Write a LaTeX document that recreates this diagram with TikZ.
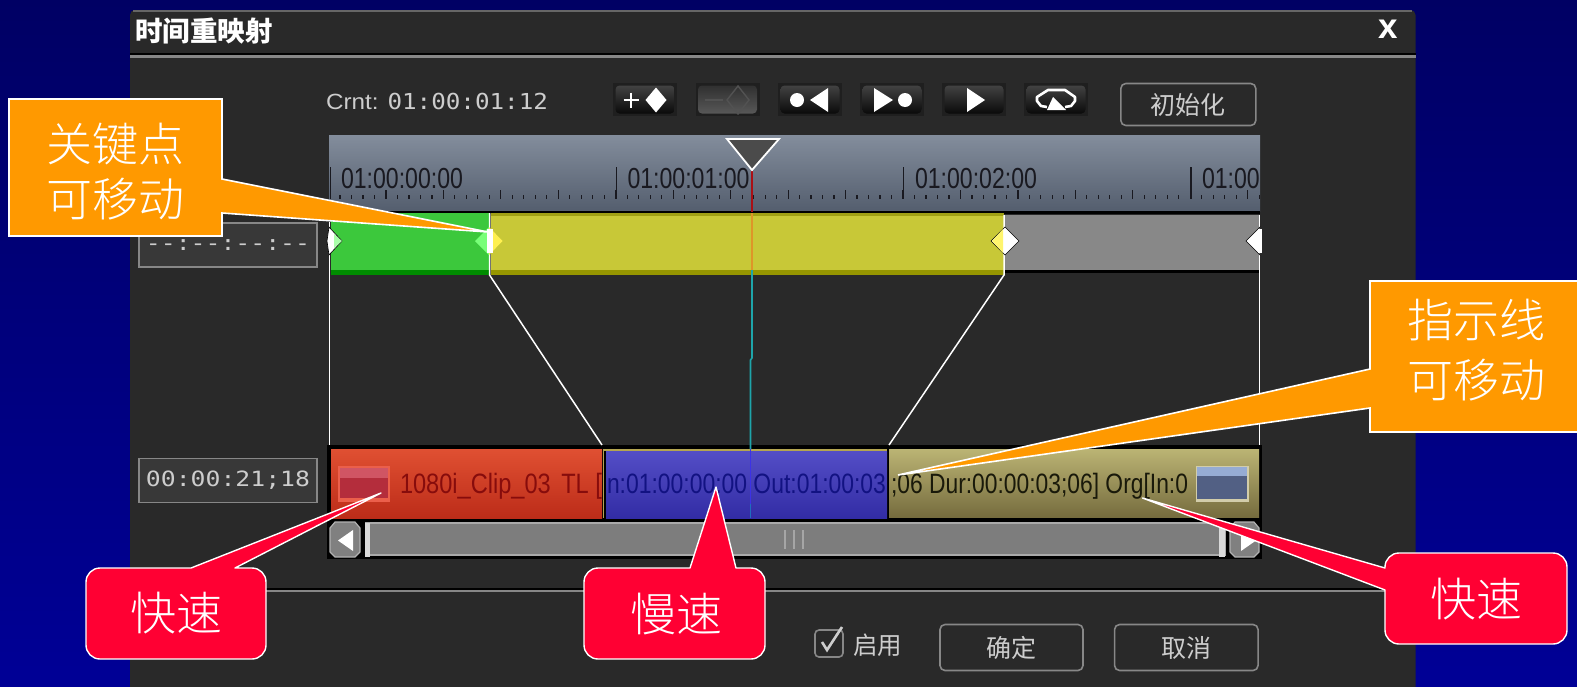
\documentclass[tikz,border=0pt]{standalone}
\usepackage{fontspec}
\usepackage{graphicx}
\setmainfont{Liberation Sans}
\newfontfamily\cjk{Noto Sans CJK SC}
\newfontfamily\cjkthin{Noto Sans CJK SC Light}
\newfontfamily\monof{DejaVu Sans Mono}
\newcommand{\fit}[2]{\resizebox{#1pt}{\height}{#2}}
\newcommand{\fs}[1]{\fontsize{#1}{#1}\selectfont}
\definecolor{winbg}{RGB}{41,41,41}
\definecolor{bgtop}{RGB}{0,0,100}
\definecolor{bgbot}{RGB}{0,0,150}
\definecolor{orangebox}{RGB}{255,153,0}
\definecolor{redbox}{RGB}{255,0,51}
\definecolor{uitext}{RGB}{205,205,205}
\definecolor{uiline}{RGB}{135,135,135}
\definecolor{rultop}{RGB}{131,141,156}
\definecolor{rulbot}{RGB}{84,94,110}
\definecolor{tgreen}{RGB}{60,200,60}
\definecolor{tgreend}{RGB}{0,140,0}
\definecolor{tyellow}{RGB}{200,200,55}
\definecolor{tyellowa}{RGB}{160,160,20}
\definecolor{tyellowd}{RGB}{150,150,0}
\definecolor{tgray}{RGB}{136,136,136}
\definecolor{cr1}{RGB}{224,80,50}
\definecolor{cr2}{RGB}{188,44,25}
\definecolor{cb1}{RGB}{84,78,198}
\definecolor{cb2}{RGB}{50,44,165}
\definecolor{ck1}{RGB}{187,180,116}
\definecolor{ck2}{RGB}{118,108,62}
\definecolor{cedge}{RGB}{180,165,80}
\definecolor{th1}{RGB}{235,95,75}
\definecolor{th2}{RGB}{180,45,60}
\definecolor{th3}{RGB}{208,85,100}
\definecolor{tr1}{RGB}{210,205,170}
\definecolor{tr2}{RGB}{82,96,132}
\definecolor{tr3}{RGB}{150,172,212}
\definecolor{txr}{RGB}{135,12,12}
\definecolor{txb}{RGB}{18,18,130}
\definecolor{txk}{RGB}{25,25,10}
\definecolor{phr}{RGB}{170,15,20}
\definecolor{pho}{RGB}{222,150,40}
\definecolor{pht}{RGB}{30,165,170}
\definecolor{phb}{RGB}{60,50,230}
\definecolor{phc}{RGB}{30,110,190}
\definecolor{phg}{RGB}{75,75,75}
\definecolor{dgreen}{RGB}{120,255,120}
\definecolor{dgreenl}{RGB}{170,255,170}
\definecolor{dyel}{RGB}{255,240,80}
\definecolor{dyell}{RGB}{255,245,110}
\definecolor{sbar}{RGB}{125,125,125}
\definecolor{sbarl}{RGB}{170,170,170}
\definecolor{tickc}{RGB}{25,25,32}
\definecolor{btna}{RGB}{66,66,66}
\definecolor{btnb}{RGB}{10,10,10}
\definecolor{btnc}{RGB}{48,48,48}
\definecolor{btnd}{RGB}{88,88,88}
\definecolor{btng}{RGB}{82,82,82}
\tikzset{
  x=1pt,y=-1pt,
  txt/.style={inner sep=0pt,outer sep=0pt,align=center},
  calltext/.style={txt,text=white,font=\cjkthin\fs{46}},
  orangecall/.style={fill=orangebox,draw=white,line width=1.6pt,line join=miter},
  redcall/.style={fill=redbox,draw=white,line width=1.4pt,line join=round},
  btn/.style={inner sep=0pt,outer sep=0pt,minimum width=64pt,minimum height=33pt,fill=black!88!white},
  uibtn/.style={inner sep=0pt,draw=uiline,line width=1.6pt,rounded corners=5pt,text=uitext,font=\cjk\fs{25},fill=winbg},
  tcbox/.style={inner sep=0pt,draw=uiline,line width=1.6pt,minimum width=178pt,minimum height=44pt,fill=black!78!white,text=uitext},
  rule/.style={white,line width=1.5pt},
  scrollbtn/.style={fill=black!50!white,draw=black!30!white,line width=1.2pt,line join=round},
  tick/.style={tickc,line width=1.2pt},
}
\newcommand{\keybtn}[4]{\node[btn] (#1) at #2 {};
  \shade[top color=#3,bottom color=#4,rounded corners=4pt] ([shift={(2.5,2.5)}]#1.north west) rectangle ([shift={(-2.5,-2.5)}]#1.south east);}
\begin{document}
\begin{tikzpicture}
\useasboundingbox (0,0) rectangle (1577,686);
% slide background
\shade[top color=bgtop,bottom color=bgbot] (0,0) rectangle (1577,686);
% window
\fill[winbg,rounded corners=5pt] (130,10) -- (1415.5,10) -- (1415.5,700) -- (130,700) -- cycle;
\fill[black!60!white] (133,10) rectangle (1412,11.5);
\fill[black] (130,52.5) rectangle (1415.5,54.5);
\fill[uiline] (130,55) rectangle (1415.5,57.5);
\fill[black] (130,588) rectangle (1415.5,589.5);
\fill[uiline] (130,589.5) rectangle (1415.5,592);
\node[txt,text=white,anchor=west,font=\cjk\bfseries\fs{27.5}] (title) at (135,31) {时间重映射};
\node[txt,text=white,font=\bfseries\fs{35}] (close) at (1388.5,29) {x};
% top controls
\node[txt,anchor=west,text=uitext] (crnt) at (326,101) {\fit{222}{\fs{22}Crnt: \monof 01:00:01:12}};
\keybtn{b1}{(645,99.5)}{btna}{btnb}
\keybtn{b2}{(727.5,99.5)}{btnc}{btnd}
\keybtn{b3}{(810,99.5)}{btna}{btnb}
\keybtn{b4}{(892,99.5)}{btna}{btnb}
\keybtn{b5}{(974,99.5)}{btna}{btnb}
\keybtn{b6}{(1056,99.5)}{btna}{btnb}
\node[uibtn,minimum width=135pt,minimum height=42pt] (init) at (1188.3,104.5) {初始化};
% button glyphs
\draw[white,line width=2.6pt] (623.5,100) -- (638.5,100) (631,92.5) -- (631,107.5);
\fill[white] (656,87.5) -- (666.5,100) -- (656,112.5) -- (645.5,100) -- cycle;
\draw[btng,line width=2.6pt] (705,100) -- (723,100);
\draw[btng,line width=1.4pt] (738,86) -- (749,100) -- (738,114) -- (727,100) -- cycle;
\fill[white] (797,100) circle (7);
\fill[white] (828,88) -- (828,112) -- (810,100) -- cycle;
\fill[white] (874,88) -- (874,112) -- (893,100) -- cycle;
\fill[white] (905,100) circle (7);
\fill[white] (967,88) -- (967,112) -- (985,100) -- cycle;
\draw[white,line width=2.6pt,line join=round] (1047,107) -- (1041,106) -- (1037,101) -- (1037,97) -- (1048,90) -- (1065,90) -- (1075,97) -- (1075,101) -- (1071,106) -- (1065,107);
\fill[white] (1053,97) -- (1066,110) -- (1047,110) -- cycle;
% ruler
\shade[top color=rultop,bottom color=rulbot] (329,135) rectangle (1260,211);
\begin{scope}
  \clip (329,135) rectangle (1260,211);
  \foreach \i in {0,...,81}{
    \pgfmathsetmacro{\tx}{328.5+11.49*\i}
    \pgfmathtruncatemacro{\mm}{mod(\i,5)}
    \ifnum\mm=0 \draw[tick] (\tx,190) -- (\tx,199); \else \draw[tick] (\tx,195) -- (\tx,199); \fi
  }
  \foreach \tx in {330.5,616.5,903.5,1191}{\draw[tickc,line width=1.6pt] (\tx,167) -- (\tx,199);}
  \node[txt,anchor=base west,text=tickc] (t0) at (341,188) {\fit{122}{\fs{29}01:00:00:00}};
  \node[txt,anchor=base west,text=tickc] (t1) at (627.5,188) {\fit{122}{\fs{29}01:00:01:00}};
  \node[txt,anchor=base west,text=tickc] (t2) at (915,188) {\fit{122}{\fs{29}01:00:02:00}};
  \node[txt,anchor=base west,text=tickc] (t3) at (1202,188) {\fit{122}{\fs{29}01:00:03:00}};
\end{scope}
% time code boxes
\node[tcbox] (tc1) at (228,245) {\fit{164}{\monof\fs{21}--:--:--:--}};
\node[tcbox] (tc2) at (228,480.5) {\fit{164}{\monof\fs{21}00:00:21;18}};
% speed track
\fill[black] (329,211) rectangle (1260,214);
\fill[black] (1004,270) rectangle (1260,273);
\fill[tgreen] (331,213) rectangle (489,270);
\fill[tgreend] (331,270) rectangle (489,275);
\fill[tyellow] (491,213) rectangle (1003.5,270);
\fill[tyellowa] (491,213) rectangle (1003.5,215.5);
\fill[tyellowd] (491,270) rectangle (1003.5,275);
\fill[tgray] (1004.5,215) rectangle (1260,270);
% mapping line ends
\coordinate (l0t) at (329.5,222);
\coordinate (l0b) at (329.5,445);
\coordinate (l1t) at (489.5,213);
\coordinate (l1m) at (489.5,275);
\coordinate (l1b) at (602,445);
\coordinate (l2t) at (1004,215);
\coordinate (l2m) at (1004,275);
\coordinate (l2b) at (889,445);
\coordinate (l3t) at (1259.5,215);
\coordinate (l3b) at (1259.5,445);
% clip strip
\fill[black] (327,445) rectangle (1262,520);
\shade[top color=cr1,bottom color=cr2] (331,449) rectangle (602,518);
\shade[top color=cb1,bottom color=cb2] (606,451) rectangle (887,518);
\shade[top color=ck1,bottom color=ck2] (889,449) rectangle (1259,517);
\fill[cedge] (604,449) rectangle (887,451);
\draw[cedge,line width=1.2pt] (603.5,449) -- (603.5,518);
% left thumbnail
\fill[th1] (338,466) rectangle (390,502);
\fill[th2] (340,468) rectangle (388,498);
\fill[th3] (340,468) rectangle (388,478);
% right thumbnail
\fill[tr1] (1196,466) rectangle (1249,502);
\fill[tr2] (1197,467) rectangle (1247,499);
\fill[tr3] (1197,467) rectangle (1247,476);
% clip texts
\node[txt,anchor=base west,text=txr] (ctext) at (400,493) {\fit{202}{\fs{28}1080i\_Clip\_03 \,TL [}};
\node[txt,anchor=base west,text=txb] (btext) at (607,493) {\fit{279}{\fs{28}n:01:00:00:00 Out:01:00:03}};
\node[txt,anchor=base west,text=txk] (ytext) at (891,493) {\fit{297}{\fs{28};06 Dur:00:00:03;06] Org[In:0}};
% playhead lines
\draw[phr,line width=1.8pt] (752,171) -- (752,212);
\draw[pho,line width=1.4pt] (752,213) -- (752,270);
\draw[pht,line width=1.6pt] (752,270) -- (752,358) -- (750.5,360) -- (750.5,449);
\draw[phb,line width=1.6pt] (750.5,449) -- (750.5,504);
\draw[phc,line width=1.6pt] (750.5,504) -- (750.5,518);
\path[fill=phg,draw=white,line width=1.8pt,line join=miter] (727,139) -- (779,139) -- (752,170) -- cycle;
% mapping lines on top
\draw[rule] (l0t) -- (l0b);
\draw[rule] (l1t) -- (l1m) -- (l1b);
\draw[rule] (l2t) -- (l2m) -- (l2b);
\draw[rule] (l3t) -- (l3b);
% key point diamonds
\path[fill=white,draw=black,line width=.6pt] (329,227) -- (342,241) -- (329,255) -- (327,241) -- cycle;
\fill[dgreenl] (334,234) -- (342,241) -- (334,248) -- cycle;
\fill[dgreen] (489,227) -- (475,241) -- (489,255) -- cycle;
\fill[dyel] (489,227) -- (502.5,241) -- (489,255) -- cycle;
\fill[white] (487,229) rectangle (493,253);
\path[fill=white,draw=black,line width=.6pt] (1005,227) -- (1019,241) -- (1005,255) -- (991,241) -- cycle;
\fill[dyell] (1003,229) -- (1003,253) -- (992,241) -- cycle;
\path[fill=white,draw=black,line width=.6pt] (1260,227) -- (1246,241) -- (1260,255) -- cycle;
\fill[white] (1258,229) rectangle (1262,253);
% scrollbar
\fill[black] (327,520) rectangle (1262,559);
\path[scrollbtn] (335,522) -- (355,522) -- (360,528) -- (360,552) -- (355,557) -- (335,557) -- (330,552) -- (330,528) -- cycle;
\fill[white] (353,530) -- (353,551) -- (338,540.5) -- cycle;
\path[fill=sbar,draw=sbarl,line width=1.4pt] (366,523) rectangle (1225,555);
\fill[white!85!black] (365,523) rectangle (370,557);
\fill[white!85!black] (1219,523) rectangle (1225,557);
\draw[black!35!white,line width=1.4pt] (785,530) -- (785,549) (794,530) -- (794,549) (803,530) -- (803,549);
\path[scrollbtn] (1235,522) -- (1254,522) -- (1259,528) -- (1259,552) -- (1254,557) -- (1235,557) -- (1230,552) -- (1230,528) -- cycle;
\fill[white] (1241,530) -- (1241,551) -- (1256,540.5) -- cycle;
% bottom controls
\draw[uiline,line width=1.6pt,rounded corners=4pt] (815,630) rectangle (843,657);
\draw[uitext,line width=2.6pt] (822,642) -- (827,650) -- (842,627);
\node[txt,anchor=west,text=uitext,font=\cjk\fs{24.5}] (enable) at (853,645) {启用};
\node[uibtn,minimum width=143pt,minimum height=46pt] (ok) at (1011.5,647.5) {确定};
\node[uibtn,minimum width=143.5pt,minimum height=46pt] (cancel) at (1186.3,647.5) {取消};
% callouts
\draw[orangecall] (9,99) -- (222,99) -- (222,179) -- (488,232) -- (222,213) -- (222,236) -- (9,236) -- cycle;
\node[calltext] (c1) at (115,172) {关键点\\[9pt]可移动};
\draw[orangecall] (1370,281) -- (1590,281) -- (1590,432) -- (1370,432) -- (1370,408) -- (898,475) -- (1370,369) -- cycle;
\node[calltext] (c2) at (1476,350) {指示线\\[14pt]可移动};
\draw[redcall,rounded corners=14pt] (130,568) [sharp corners] -- (191,568) -- (381,493) -- (235,568) [rounded corners=14pt] -- (266,568) -- (266,659) -- (86,659) -- (86,568) -- cycle;
\node[calltext] (r1) at (176,613) {快速};
\draw[redcall,rounded corners=14pt] (630,568) [sharp corners] -- (690,568) -- (716,487) -- (736,568) [rounded corners=14pt] -- (765,568) -- (765,659) -- (584,659) -- (584,568) -- cycle;
\node[calltext] (r2) at (676,614) {慢速};
\draw[redcall,rounded corners=14pt] (1385,600) -- (1385,644) -- (1567,644) -- (1567,553) -- (1385,553) [sharp corners] -- (1385,568) -- (1142.5,498) -- (1385,590) -- cycle;
\node[calltext] (r3) at (1476,599) {快速};
\end{tikzpicture}
\end{document}
